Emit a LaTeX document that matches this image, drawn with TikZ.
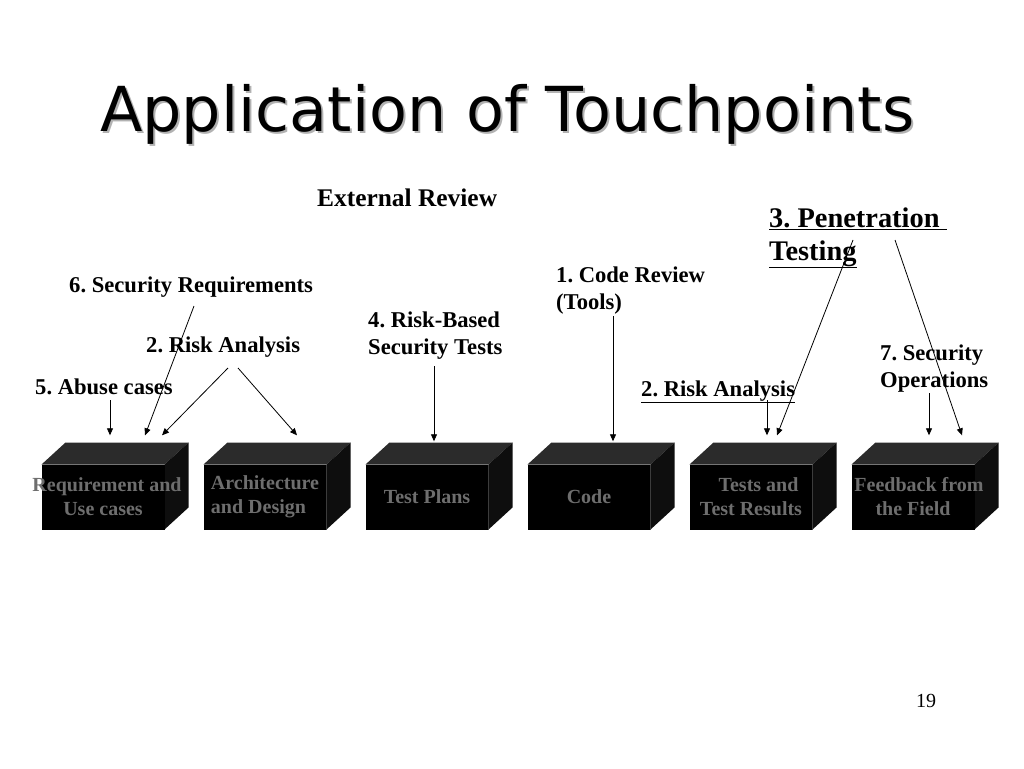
\documentclass[tikz,border=0pt]{standalone}
\usepackage{fontspec}
\setmainfont{Liberation Serif}
\newfontfamily\titlefont{DejaVu Sans}
\usetikzlibrary{arrows.meta}
\definecolor{topgray}{HTML}{2B2B2B}
\definecolor{sidegray}{HTML}{0E0E0E}
\definecolor{boxtext}{HTML}{6E6E6E}
\frenchspacing

\begin{document}
\begin{tikzpicture}[x=1pt,y=-1pt,
  label/.style = {anchor=base west, inner sep=0pt, align=left,
    font=\fontsize{22.6}{27}\selectfont\bfseries},
  box/.style = {minimum width=123pt, minimum height=65pt,
    inner sep=0pt, align=center, text=boxtext,
    font=\fontsize{20}{24}\selectfont\bfseries,
    path picture={\fill[black]
      ([shift={(-61.5pt,-32.5pt)}]path picture bounding box.center)
      rectangle ([shift={(61.5pt,32.5pt)}]path picture bounding box.center);}},
  arr/.style = {-{Triangle[length=7pt,width=6pt]}, line width=0.8pt}]
  \useasboundingbox (0,0) rectangle (1024,768);

  % title with its shadow
  \node[anchor=base west, inner sep=0pt, text=black!30,
    font=\fontsize{62}{70}\titlefont] at (102,133) {Application of Touchpoints};
  \node (title) [anchor=base west, inner sep=0pt,
    font=\fontsize{62}{70}\titlefont] at (100,131) {Application of Touchpoints};

  % the six phases
  \foreach \b/\x in {req/103,arch/265,plan/427,code/589,tests/751,field/913} {
    \fill[topgray] (\x-61.5,464.5) -- ++(24pt,22pt) -- ++(123pt,0pt)
      -- ++(-24pt,-22pt) -- cycle;
    \fill[sidegray] (\x+61.5,464.5) -- ++(24pt,22pt) -- ++(0pt,-65pt)
      -- ++(-24pt,-22pt) -- cycle;
  }
  \node (req) [box] at (103,497) {\hspace*{8pt}Requirement and\\Use cases};
  \node (arch) [box, align=left] at (265,497) {Architecture\\and Design};
  \node (plan) [box] at (427,497) {Test Plans};
  \node (code) [box] at (589,497) {Code};
  \node (tests) [box] at (751,497) {\ \ \ Tests and\\Test Results};
  \node (field) [box] at (913,497) {\hspace*{12pt}Feedback from\\the Field};

  % touchpoints
  \node (ext) [label, font=\fontsize{25.4}{29}\selectfont\bfseries]
    at (317,206) {External Review};
  \node (secreq) [label] at (69,292) {6. Security Requirements};
  \node (risk1) [label] at (146,352) {2. Risk Analysis};
  \node (abuse) [label] at (35,394) {5. Abuse cases};
  \node (rbtest) [label] at (368,354) {4. Risk-Based\\Security Tests};
  \node (review) [label] at (556,309) {1. Code Review\\(Tools)};
  \node (risk2) [label] at (641,396) {\underline{2. Risk Analysis}};
  \node (pen) [label, font=\fontsize{28.4}{33}\selectfont\bfseries]
    at (769,260) {\underline{3. Penetration\ }\\\underline{Testing}};
  \node (secops) [label] at (880,387) {7. Security\\Operations};
  \node (page) [anchor=base west, inner sep=0pt,
    font=\fontsize{20}{24}\selectfont] at (916,707) {19};

  % arrow starts
  \coordinate (abuse s) at (110,400);
  \coordinate (secreq s) at (194,306);
  \coordinate (risk1 s) at (228,368);
  \coordinate (risk1 t) at (238,368);
  \coordinate (rbtest s) at (434,366);
  \coordinate (review s) at (613,316);
  \coordinate (risk2 s) at (767,400);
  \coordinate (pen s) at (853,240);
  \coordinate (pen t) at (895,240);
  \coordinate (secops s) at (929,393);

  \draw[arr] (abuse s) -- ([xshift=7pt,yshift=29pt]req.north);
  \draw[arr] (secreq s) -- ([xshift=42pt,yshift=29pt]req.north);
  \draw[arr] (risk1 s) -- ([xshift=59pt,yshift=29pt]req.north);
  \draw[arr] (risk1 t) -- ([xshift=32pt,yshift=29pt]arch.north);
  \draw[arr] (rbtest s) -- ([xshift=7pt,yshift=23pt]plan.north);
  \draw[arr] (review s) -- ([xshift=24pt,yshift=23pt]code.north);
  \draw[arr] (risk2 s) -- ([xshift=16pt,yshift=29pt]tests.north);
  \draw[arr] (pen s) -- ([xshift=26pt,yshift=29pt]tests.north);
  \draw[arr] (pen t) -- ([xshift=49pt,yshift=29pt]field.north);
  \draw[arr] (secops s) -- ([xshift=16pt,yshift=29pt]field.north);
\end{tikzpicture}
\end{document}
